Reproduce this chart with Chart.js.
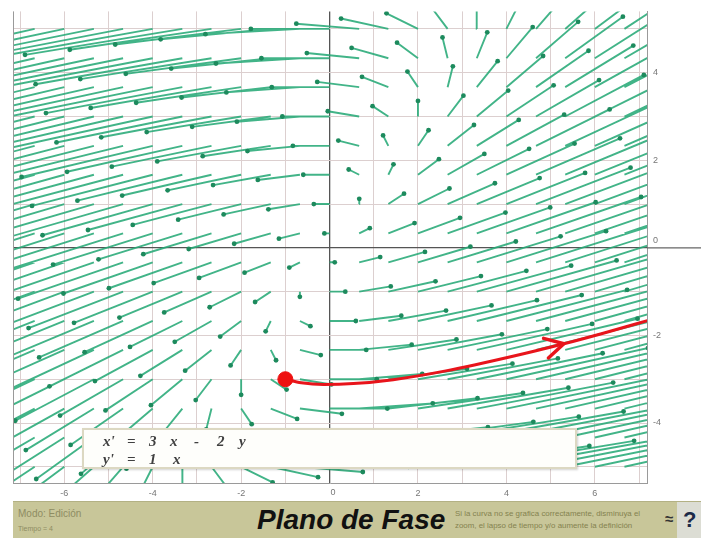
<!DOCTYPE html>
<html>
<head>
<meta charset="utf-8">
<script src="https://cdn.jsdelivr.net/npm/chart.js@4.4.1/dist/chart.umd.min.js"></script>
<style>
html,body{margin:0;padding:0;background:#fff;width:701px;height:541px;overflow:hidden;font-family:"Liberation Sans",Arial,sans-serif;}
#wrap{position:absolute;left:0;top:0;width:701px;height:502px;}
#eq{position:absolute;left:82px;top:428px;width:491px;height:37px;background:#fefefb;border:2px solid #dcd8c2;box-shadow:1px 1px 2px rgba(0,0,0,0.18);}
.eqt{position:absolute;font-family:"Liberation Serif","DejaVu Serif",serif;font-style:italic;font-weight:bold;font-size:15px;line-height:16px;color:#404040;}
#bar{position:absolute;left:13px;top:501px;width:664px;height:36px;background:#c8c699;border-top:1px solid #b3b184;}
#help{position:absolute;left:677px;top:501px;width:24px;height:36px;background:#dcddd4;border-top:1px solid #b3b184;}
.bt{position:absolute;white-space:nowrap;}
</style>
</head>
<body>
<div id="wrap"><canvas id="c"></canvas></div>
<div id="eq">
  <span class="eqt" style="left:19px;top:3px">x'</span>
  <span class="eqt" style="left:43px;top:3px">=</span>
  <span class="eqt" style="left:65px;top:3px">3</span>
  <span class="eqt" style="left:86px;top:3px">x</span>
  <span class="eqt" style="left:110px;top:3px">-</span>
  <span class="eqt" style="left:133px;top:3px">2</span>
  <span class="eqt" style="left:155px;top:3px">y</span>
  <span class="eqt" style="left:19px;top:21px">y'</span>
  <span class="eqt" style="left:43px;top:21px">=</span>
  <span class="eqt" style="left:65px;top:21px">1</span>
  <span class="eqt" style="left:89px;top:21px">x</span>
</div>
<div id="bar">
  <span class="bt" style="left:5px;top:6px;font-size:10px;color:#8e8c62">Modo: Edición</span>
  <span class="bt" style="left:5px;top:23px;font-size:7px;color:#8e8c62">Tiempo = 4</span>
  <span class="bt" style="left:244px;top:2px;font-size:28px;font-weight:bold;font-style:italic;color:#111">Plano de Fase</span>
  <span class="bt" style="left:442px;top:7px;font-size:7.9px;color:#84824f">Si la curva no se grafica correctamente, disminuya el</span>
  <span class="bt" style="left:442px;top:19px;font-size:7.9px;color:#84824f">zoom, el lapso de tiempo y/o aumente la definición</span>
  <span class="bt" style="left:652px;top:8px;font-size:15px;font-weight:bold;color:#333">≈</span>
</div>
<div id="help"><span class="bt" style="left:6px;top:5px;font-size:22px;font-weight:bold;color:#1c2a48">?</span></div>
<script>
// ---- data ----
const eqXCoef = [3, -2];   // x' = 3 x - 2 y
const eqYCoef = [1, 0];    // y' = 1 x
const sampleX = [-6.67,-6,-5.33,-4.67,-4,-3.33,-2.67,-2,-1.33,-0.67,0,0.67,1.33,2,2.67,3.33,4,4.67,5.33,6,6.67];
const sampleY = [-5,-4.33,-3.67,-3,-2.33,-1.67,-1,-0.33,0.33,1,1.67,2.33,3,3.67,4.33,5];
const arrowScale = 0.178;
const trajX = [-1, -0.64, -0.14, 0.54, 1.44, 2.63, 4.17, 5.3, 6.15, 7.34];
const trajY = [-3, -3.08, -3.12, -3.10, -3.01, -2.81, -2.47, -2.19, -1.96, -1.62];
const arrowAt = [5.3, -2.19];
const gridValues = [-7,-6,-5,-4,-3,-2,-1,0,1,2,3,4,5,6,7];
const xTickValues = [-6,-4,-2,2,4,6];
const yTickValues = [-4,-2,2,4];
const originLabel = '0';

// ---- build datasets ----
const fieldLines = [], fieldHeads = [];
sampleY.forEach(y => sampleX.forEach(x => {
  const vx = eqXCoef[0]*x + eqXCoef[1]*y;
  const vy = eqYCoef[0]*x + eqYCoef[1]*y;
  const hx = x + arrowScale*vx, hy = y + arrowScale*vy;
  fieldLines.push({x:x, y:y}, {x:hx, y:hy}, {x:hx, y:null});
  fieldHeads.push({x:hx, y:hy});
}));
const traj = trajX.map((x,i) => ({x:x, y:trajY[i]}));

const framePlugin = {
  id:'frame',
  afterDraw(chart){
    const {ctx, chartArea:a, scales} = chart;
    ctx.save();
    ctx.strokeStyle = '#9a9a9a'; ctx.lineWidth = 1;
    ctx.beginPath();
    ctx.moveTo(a.left+0.5, a.bottom); ctx.lineTo(a.left+0.5, a.top);
    ctx.stroke();
    const y0 = scales.y.getPixelForValue(0), x0 = scales.x.getPixelForValue(0);
    ctx.strokeStyle = '#666'; ctx.lineWidth = 1.3;
    ctx.beginPath(); ctx.moveTo(a.right, y0); ctx.lineTo(chart.width, y0); ctx.stroke();
    ctx.fillStyle = '#777'; ctx.font = '9px "Liberation Sans", Arial, sans-serif';
    ctx.textBaseline = 'middle'; ctx.textAlign = 'left';
    ctx.fillText(originLabel, a.right + 6, y0 - 7);
    ctx.fillText(originLabel, x0 + 1, a.bottom + 10);
    ctx.restore();
  },
  afterDatasetsDraw(chart){
    const {ctx, scales} = chart;
    const px = scales.x.getPixelForValue(arrowAt[0]), py = scales.y.getPixelForValue(arrowAt[1]);
    const qx = scales.x.getPixelForValue(trajX[6]), qy = scales.y.getPixelForValue(trajY[6]);
    const ang = Math.atan2(py-qy, px-qx);
    const L = 21, sp = 0.5;
    ctx.save();
    ctx.strokeStyle = '#e8141b'; ctx.lineWidth = 3.5; ctx.lineCap='round'; ctx.lineJoin='round';
    ctx.beginPath();
    ctx.moveTo(px - L*Math.cos(ang - sp), py - L*Math.sin(ang - sp));
    ctx.lineTo(px, py);
    ctx.lineTo(px - L*Math.cos(ang + sp), py - L*Math.sin(ang + sp));
    ctx.stroke();
    ctx.restore();
  }
};

new Chart(document.getElementById('c'), {
  type:'scatter',
  data:{datasets:[
    {data:[traj[0]], pointRadius:7.5, pointBackgroundColor:'#ee1111', pointBorderColor:'#ee1111', order:0},
    {data:traj, showLine:true, borderColor:'#e8141b', borderWidth:3, pointRadius:0, cubicInterpolationMode:'monotone', order:1},
    {data:fieldHeads, pointRadius:2.4, pointBackgroundColor:'#1d8a5d', pointBorderWidth:0, order:2},
    {data:fieldLines, showLine:true, spanGaps:false, borderColor:'rgba(40,170,120,0.88)', borderWidth:1.9, pointRadius:0, order:3}
  ]},
  options:{
    responsive:true, maintainAspectRatio:false, animation:false,
    layout:{padding:{left:13, top:7, right:0, bottom:0}},
    plugins:{legend:{display:false}, tooltip:{enabled:false}},
    events:[],
    scales:{
      x:{type:'linear', min:-7.16, max:7.18,
        afterBuildTicks:s=>{s.ticks = gridValues.map(v=>({value:v}));},
        afterFit:s=>{s.height = 19;},
        grid:{drawTicks:false, color:c=>c.tick && c.tick.value===0 ? '#555' : '#dccfcf', lineWidth:c=>c.tick && c.tick.value===0 ? 1.3 : 1},
        border:{display:true, color:'#9a9a9a'},
        ticks:{padding:5, color:'#777', font:{size:9, family:'"Liberation Sans", Arial, sans-serif'}, autoSkip:false, maxRotation:0,
          callback:v=> xTickValues.includes(v) ? String(v) : ''}
      },
      y:{type:'linear', position:'right', min:-5.37, max:5.40,
        afterBuildTicks:s=>{s.ticks = gridValues.filter(v=>v>=-5&&v<=5).map(v=>({value:v}));},
        afterFit:s=>{s.width = 54;},
        grid:{drawTicks:false, color:c=>c.tick && c.tick.value===0 ? '#555' : '#dccfcf', lineWidth:c=>c.tick && c.tick.value===0 ? 1.3 : 1},
        border:{display:true, color:'#9a9a9a'},
        ticks:{padding:6, color:'#777', font:{size:9, family:'"Liberation Sans", Arial, sans-serif'}, autoSkip:false,
          callback:v=> yTickValues.includes(v) ? String(v) : ''}
      }
    }
  },
  plugins:[framePlugin]
});
</script>
</body>
</html>
